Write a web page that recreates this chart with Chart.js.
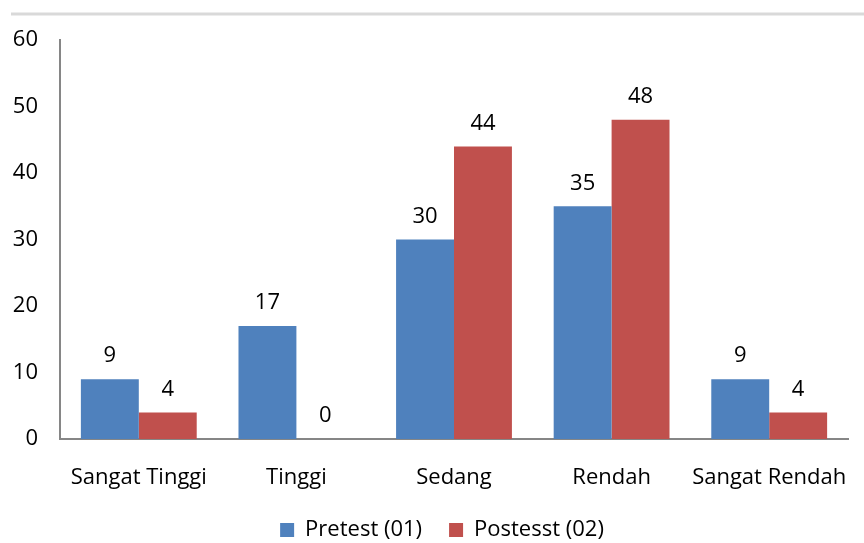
<!DOCTYPE html>
<html><head><meta charset="utf-8">
<script src="https://cdn.jsdelivr.net/npm/chart.js@4/dist/chart.umd.min.js"></script>
<style>html,body{margin:0;padding:0;background:#fff}#wrap{width:864px;height:543px}</style>
</head><body><div id="wrap"><canvas id="c" width="864" height="543"></canvas></div>
<script>
const categories = ["Sangat Tinggi", "Tinggi", "Sedang", "Rendah", "Sangat Rendah"];
const pretest = [9, 17, 30, 35, 9];
const posttest = [4, 0, 44, 48, 4];
const seriesNames = ["Pretest (01)", "Postesst (02)"];
const yTicks = [0, 10, 20, 30, 40, 50, 60];

const FONT = "'Open Sans', 'Liberation Sans', sans-serif";
const FS = 22;

const topLine = {
  id: 'topLine',
  beforeDraw(chart) {
    const ctx = chart.ctx;
    ctx.save();
    ctx.strokeStyle = '#d9d9d9';
    ctx.lineWidth = 3;
    ctx.beginPath();
    ctx.moveTo(11, 14);
    ctx.lineTo(864, 14);
    ctx.stroke();
    ctx.restore();
  }
};

const legendShift = {
  id: 'legendShift',
  afterLayout(chart) {
    if (chart.legend) {
      chart.legend.left += 20;
      chart.legend.right += 16;
    }
  }
};

const valueLabels = {
  id: 'valueLabels',
  afterDatasetsDraw(chart) {
    const ctx = chart.ctx;
    ctx.save();
    ctx.font = FS + "px " + FONT;
    ctx.fillStyle = '#000';
    ctx.textAlign = 'center';
    ctx.textBaseline = 'middle';
    chart.data.datasets.forEach((ds, i) => {
      const meta = chart.getDatasetMeta(i);
      meta.data.forEach((bar, j) => {
        ctx.fillText(String(ds.data[j]), bar.x, bar.y - 23);
      });
    });
    ctx.restore();
  }
};

new Chart(document.getElementById('c'), {
  type: 'bar',
  data: {
    labels: categories,
    datasets: [
      { label: seriesNames[0], data: pretest, backgroundColor: '#4F81BD' },
      { label: seriesNames[1], data: posttest, backgroundColor: '#C0504D' }
    ]
  },
  options: {
    responsive: false,
    animation: false,
    layout: { padding: { top: 40, right: 16, left: 0, bottom: -8 } },
    datasets: { bar: { categoryPercentage: 0.735, barPercentage: 1.0 } },
    plugins: {
      legend: {
        position: 'bottom',
        labels: {
          font: { size: FS, family: FONT },
          color: '#000',
          boxWidth: 14, boxHeight: 14,
          padding: 27
        }
      },
      tooltip: { enabled: false }
    },
    scales: {
      x: {
        afterFit(axis) { axis.height = 53; axis.paddingLeft = 0; axis.paddingRight = 0; },
        grid: { display: false, drawTicks: false },
        border: { color: '#868686', width: 2 },
        ticks: { font: { size: FS, family: FONT }, color: '#000', padding: 26,
                 maxRotation: 0, minRotation: 0, autoSkip: false }
      },
      y: {
        min: 0, max: 60,
        afterBuildTicks(axis) { axis.ticks = yTicks.map(v => ({ value: v })); },
        afterFit(axis) { axis.width = 60; },
        grid: { display: false, drawTicks: false },
        border: { color: '#868686', width: 2 },
        ticks: { font: { size: FS, family: FONT }, color: '#000', padding: 22 }
      }
    }
  },
  plugins: [topLine, legendShift, valueLabels]
});
</script></body></html>
